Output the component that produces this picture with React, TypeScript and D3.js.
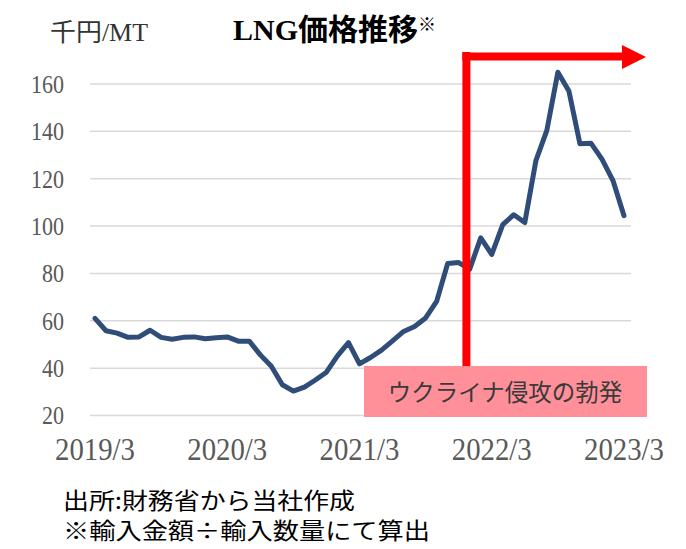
import React, { useEffect, useRef } from 'react';
import * as d3 from 'd3';

// 月次 LNG 輸入価格 (千円/MT), 2019/3 - 2023/3
const prices = [
  61, 55.8, 54.8, 53, 53.2, 56, 53, 52.2, 53, 53.2, 52.4, 52.8,
  53.2, 51.4, 51.4, 45.6, 40.8, 33, 30.3, 32, 35, 38.3, 45.2, 50.8,
  41.8, 44.5, 47.6, 51.5, 55.5, 57.6, 61.2, 68.2, 84.2, 84.6, 81.8, 95,
  88, 100.6, 104.8, 101.5, 127.5, 140.4, 165, 157, 134.8, 135, 128.3, 119.2,
  104.4,
];
const xTickIndex = [0, 12, 24, 36, 48];
const xTickLabels = ['2019/3', '2020/3', '2021/3', '2022/3', '2023/3'];
const yTicks = [20, 40, 60, 80, 100, 120, 140, 160];
const eventIndex = 33.7; // 侵攻開始の目印
const eventLabel = 'ウクライナ侵攻の勃発';
const notes = ['出所:財務省から当社作成', '※輸入金額÷輸入数量にて算出'];

const SERIF = '"Liberation Serif", "Times New Roman", "Noto Sans CJK JP", serif';
const JP = '"Noto Sans CJK JP", sans-serif';

const App = () => {
  const svgRef = useRef<SVGSVGElement>(null);

  useEffect(() => {
    const svg = d3.select(svgRef.current);
    svg.selectAll('*').remove();

    const x = d3.scaleLinear().domain([0, prices.length - 1]).range([95, 624]);
    const y = d3.scaleLinear().domain([20, 160]).range([415.5, 84]);

    // grid
    svg.append('g')
      .selectAll('line')
      .data(yTicks)
      .enter().append('line')
      .attr('x1', 90)
      .attr('x2', 631)
      .attr('y1', d => y(d))
      .attr('y2', d => y(d))
      .attr('stroke', '#d9d9d9')
      .attr('stroke-width', 1.5);

    // y labels (condensed serif like the original)
    svg.append('g')
      .selectAll('text')
      .data(yTicks)
      .enter().append('text')
      .attr('x', 64)
      .attr('y', d => y(d) + 8.8)
      .attr('text-anchor', 'end')
      .attr('font-family', SERIF)
      .attr('font-size', 26)
      .attr('fill', '#595959')
      .attr('textLength', d => String(d).length * 11)
      .attr('lengthAdjust', 'spacingAndGlyphs')
      .text(d => d);

    // x labels
    svg.append('g')
      .selectAll('text')
      .data(xTickIndex)
      .enter().append('text')
      .attr('x', d => x(d))
      .attr('y', 460)
      .attr('text-anchor', 'middle')
      .attr('font-family', SERIF)
      .attr('font-size', 31)
      .attr('fill', '#595959')
      .attr('textLength', 80)
      .attr('lengthAdjust', 'spacingAndGlyphs')
      .text((d, i) => xTickLabels[i]);

    // price line
    const line = d3.line<number>()
      .x((d, i) => x(i))
      .y(d => y(d));

    svg.append('path')
      .datum(prices)
      .attr('fill', 'none')
      .attr('stroke', '#2f4d78')
      .attr('stroke-width', 5)
      .attr('stroke-linejoin', 'round')
      .attr('stroke-linecap', 'round')
      .attr('d', line);

    // event marker
    const ex = x(eventIndex);
    svg.append('line')
      .attr('x1', ex).attr('x2', ex)
      .attr('y1', 52).attr('y2', 368)
      .attr('stroke', '#ff0000')
      .attr('stroke-width', 8);
    svg.append('line')
      .attr('x1', ex - 4).attr('x2', 624)
      .attr('y1', 56.5).attr('y2', 56.5)
      .attr('stroke', '#ff0000')
      .attr('stroke-width', 8);
    svg.append('path')
      .attr('d', `M622,45 L646,57 L622,69 Z`)
      .attr('fill', '#ff0000');

    // event label box
    svg.append('rect')
      .attr('x', 364).attr('y', 366)
      .attr('width', 283).attr('height', 51)
      .attr('fill', '#ff8f99');
    svg.append('text')
      .attr('x', 505).attr('y', 401)
      .attr('text-anchor', 'middle')
      .attr('font-family', JP)
      .attr('font-size', 23.5)
      .attr('fill', '#3a3a3a')
      .text(eventLabel);

    // titles
    const title = svg.append('text')
      .attr('x', 233).attr('y', 40)
      .attr('font-family', SERIF)
      .attr('font-weight', 'bold')
      .attr('font-size', 30)
      .attr('fill', '#000');
    title.append('tspan').text('LNG価格推移');
    title.append('tspan')
      .attr('font-size', 18)
      .attr('font-weight', 'normal')
      .attr('dy', -9)
      .text('※');

    svg.append('text')
      .attr('x', 50).attr('y', 41)
      .attr('font-family', SERIF)
      .attr('font-size', 25)
      .attr('fill', '#333')
      .attr('textLength', 98)
      .attr('lengthAdjust', 'spacingAndGlyphs')
      .text('千円/MT');

    // notes
    svg.append('g')
      .selectAll('text')
      .data(notes)
      .enter().append('text')
      .attr('x', 63)
      .attr('y', (d, i) => 509 + i * 30)
      .attr('font-family', JP)
      .attr('font-size', 22.5)
      .attr('fill', '#000')
      .attr('textLength', (d, i) => (i === 0 ? 292 : 367))
      .attr('lengthAdjust', 'spacingAndGlyphs')
      .text(d => d);
  }, []);

  return (
    <svg
      ref={svgRef}
      width={686}
      height={549}
      style={{ position: 'absolute', left: 0, top: 0, background: '#fff' }}
    />
  );
};

export default App;
